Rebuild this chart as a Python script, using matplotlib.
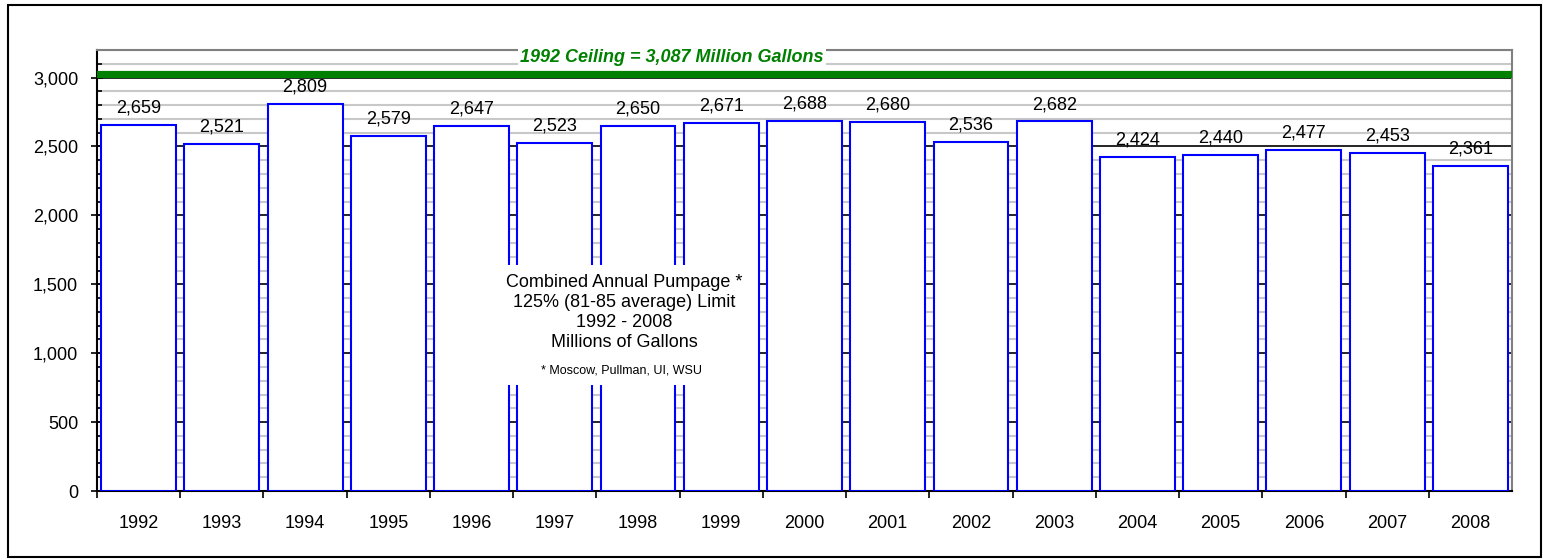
import matplotlib
matplotlib.use("Agg")
import matplotlib.pyplot as plt
from matplotlib.patches import Rectangle
from matplotlib.ticker import MultipleLocator, FuncFormatter

years = ["1992", "1993", "1994", "1995", "1996", "1997", "1998", "1999", "2000",
         "2001", "2002", "2003", "2004", "2005", "2006", "2007", "2008"]
pumpage = [2659, 2521, 2809, 2579, 2647, 2523, 2650, 2671, 2688,
           2680, 2536, 2682, 2424, 2440, 2477, 2453, 2361]
ceiling_label = "1992 Ceiling = 3,087 Million Gallons"
box_text = "Combined Annual Pumpage *\n125% (81-85 average) Limit\n1992 - 2008\nMillions of Gallons"
note_text = "* Moscow, Pullman, UI, WSU"

plt.rcParams["font.family"] = ["Liberation Sans", "DejaVu Sans"]

fig = plt.figure(figsize=(15.43, 5.6), dpi=100)
ax = fig.add_axes([97 / 1543, 1 - 491 / 560, (1512 - 97) / 1543, (491 - 50) / 560])

# outer frame
fig.patches.append(Rectangle((8 / 1543, 1 - 557 / 560), (1541 - 8) / 1543, (557 - 5) / 560,
                             transform=fig.transFigure, fill=False, edgecolor="black", lw=1.5))

x = list(range(len(years)))
ax.bar(x, pumpage, width=0.9, color="white", edgecolor="#0000FF", lw=1.5, zorder=3)
for xi, v in zip(x, pumpage):
    ax.annotate(f"{v:,}", (xi, v), xytext=(0, 6), textcoords="offset points",
                ha="center", va="bottom", fontsize=13, zorder=5)

ax.set_xlim(-0.5, len(years) - 0.5)
ax.set_ylim(0, 3200)

# ceiling band
ax.axhline(3025, color="#008000", lw=5.2, zorder=4)
ax.text(6.41, 3145, ceiling_label, color="#008000", fontsize=13, fontweight="bold",
        style="italic", ha="center", va="center", zorder=6,
        bbox=dict(facecolor="white", edgecolor="none", pad=1.5))

# gridlines
ax.yaxis.set_major_locator(MultipleLocator(500))
ax.yaxis.set_minor_locator(MultipleLocator(100))
ax.yaxis.set_major_formatter(FuncFormatter(lambda v, p: f"{int(v):,}"))
ax.grid(which="minor", axis="y", color="#C8C8C8", lw=1.5, zorder=0)
ax.grid(which="major", axis="y", color="black", lw=1.2, zorder=1)
ax.set_axisbelow(True)

ax.set_xticks(x)
ax.set_xticklabels(years)
ax.set_xticks([i + 0.5 for i in x[:-1]] + [-0.5], minor=True)
ax.tick_params(axis="x", which="major", length=0, pad=17, labelsize=13)
ax.tick_params(axis="x", which="minor", length=5, direction="out", width=1.2)
ax.tick_params(axis="y", which="major", length=9, direction="inout", width=1.2,
               labelsize=13, pad=9)
ax.tick_params(axis="y", which="minor", length=3.5, direction="in", width=1.2)

for s in ("top", "right"):
    ax.spines[s].set_color("#808080")
    ax.spines[s].set_linewidth(1.5)
for s in ("left", "bottom"):
    ax.spines[s].set_linewidth(1.5)

# annotation box
ax.add_patch(Rectangle((4.40, 770), 3.03, 871, facecolor="white", edgecolor="none", zorder=7))
ax.text(5.83, 1296, box_text, ha="center", va="center", fontsize=13, linespacing=1.22, zorder=8)
ax.text(5.8, 871, note_text, ha="center", va="center", fontsize=9, zorder=8)

fig.savefig("out.png", dpi=100)
